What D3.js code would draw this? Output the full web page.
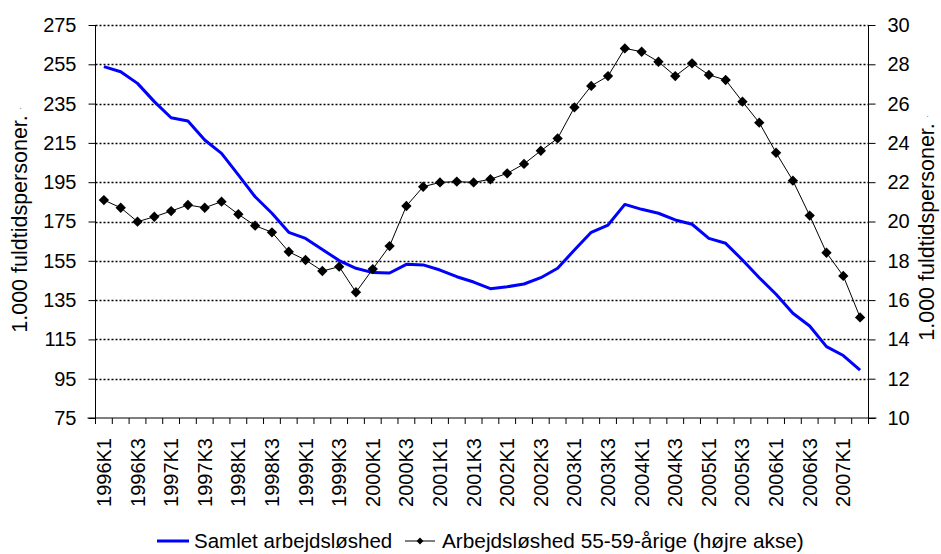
<!DOCTYPE html>
<html>
<head>
<meta charset="utf-8">
<script src="https://cdn.jsdelivr.net/npm/d3@7"></script>
<style>
	body { margin: 0; background: #fff; }
	svg { display: block; font-family: "Liberation Sans", Arial, sans-serif; }
</style>
</head>
<body>
<svg id="svgChart" width="941" height="554"></svg>
<script>
// Quarters 1996K1 .. 2007K2
var quarters = [];
for (let y = 1996; y <= 2007; y++) {
	for (let q = 1; q <= 4; q++) {
		if (y == 2007 && q > 2) break;
		quarters.push(y + "K" + q);
	}
}

// Samlet arbejdsløshed (1.000 fuldtidspersoner, left axis)
var totalUnemp = [
	253.8, 251.2, 245.3, 236.0, 227.8, 226.1, 216.5, 209.7, 198.7, 187.6,
	179.2, 169.5, 166.4, 160.8, 155.1, 151.2, 149.0, 148.8, 153.2, 152.9,
	150.3, 146.9, 144.2, 140.8, 141.8, 143.2, 146.4, 151.2, 160.5, 169.5,
	173.2, 183.7, 181.2, 179.2, 175.8, 173.6, 166.4, 163.9, 155.4, 146.4,
	138.0, 128.3, 121.8, 111.3, 106.8, 99.4
];

// Arbejdsløshed 55-59-årige (1.000 fuldtidspersoner, right axis)
var olderUnemp = [
	21.09, 20.70, 19.99, 20.24, 20.53, 20.84, 20.70, 21.01, 20.37, 19.79,
	19.45, 18.46, 18.04, 17.48, 17.70, 16.40, 17.58, 18.75, 20.79, 21.77,
	21.99, 22.03, 21.99, 22.15, 22.45, 22.93, 23.60, 24.23, 25.81, 26.90,
	27.40, 28.81, 28.64, 28.13, 27.40, 28.05, 27.46, 27.20, 26.10, 25.03,
	23.50, 22.08, 20.30, 18.41, 17.23, 15.12
];

// Tick labels
var leftTicks = [75, 95, 115, 135, 155, 175, 195, 215, 235, 255, 275];
var rightTicks = [10, 12, 14, 16, 18, 20, 22, 24, 26, 28, 30];
var xLabels = quarters.filter((d, i) => i % 2 == 0);

var seriesNames = ["Samlet arbejdsløshed", "Arbejdsløshed 55-59-årige (højre akse)"];
var yTitle = "1.000 fuldtidspersoner.";

var chart = { left: 95.5, right: 868.5, top: 25, bottom: 418 };

var svg = d3.select("#svgChart");

// Scales
var x = d3.scaleBand()
	.domain(quarters)
	.range([chart.left, chart.right])
	.padding(0);
var xc = (d) => x(d) + x.bandwidth() / 2;
var yL = d3.scaleLinear().domain([75, 275]).range([chart.bottom, chart.top]);
var yR = d3.scaleLinear().domain([10, 30]).range([chart.bottom, chart.top]);

// Dotted gridlines
svg.append("g")
	.selectAll("line")
	.data(leftTicks.slice(1))
	.enter()
	.append("line")
	.attr("x1", chart.left)
	.attr("x2", chart.right)
	.attr("y1", (d) => Math.round(yL(d)) + 0.5)
	.attr("y2", (d) => Math.round(yL(d)) + 0.5)
	.attr("stroke", "#000")
	.attr("stroke-width", 1.5)
	.attr("stroke-dasharray", "2,2");

// Left axis
let gLeft = svg.append("g")
	.attr("transform", "translate(" + chart.left + ",0)")
	.call(d3.axisLeft(yL).tickValues(leftTicks).tickSize(7).tickPadding(12));

// Right axis
let gRight = svg.append("g")
	.attr("transform", "translate(" + chart.right + ",0)")
	.call(d3.axisRight(yR).tickValues(rightTicks).tickSize(7).tickPadding(12));

[gLeft, gRight].forEach((g) => {
	g.select(".domain").attr("d", "M0," + chart.top + "V" + chart.bottom);
	g.selectAll("line").attr("stroke", "#000");
	g.selectAll("text")
		.attr("fill", "#000")
		.style("font-size", "20px");
});

// Bottom axis with ticks between categories
let gBottom = svg.append("g");
gBottom.append("line")
	.attr("x1", chart.left - 8)
	.attr("x2", chart.right + 8)
	.attr("y1", chart.bottom)
	.attr("y2", chart.bottom)
	.attr("stroke", "#000");
gBottom.selectAll(".tick")
	.data(quarters.concat(["end"]))
	.enter()
	.append("line")
	.attr("x1", (d, i) => chart.left + i * x.bandwidth())
	.attr("x2", (d, i) => chart.left + i * x.bandwidth())
	.attr("y1", chart.bottom)
	.attr("y2", chart.bottom + 6)
	.attr("stroke", "#000");
gBottom.selectAll(".xlabel")
	.data(xLabels)
	.enter()
	.append("text")
	.attr("class", "xlabel")
	.attr("transform", (d) => "translate(" + (xc(d) + 7) + "," + (chart.bottom + 20) + ") rotate(-90)")
	.style("text-anchor", "end")
	.style("font-size", "20px")
	.text((d) => d);

// Axis titles (with the small trailing dot seen in the original)
[[27, 220], [934, 228]].forEach((p) => {
	let t = svg.append("text")
		.attr("transform", "translate(" + p[0] + "," + p[1] + ") rotate(-90)")
		.style("text-anchor", "middle")
		.style("font-size", "21.5px")
		.text(yTitle + " ");
	t.append("tspan")
		.style("font-size", "7px")
		.attr("dy", "-6")
		.text(".");
});

// Blue line (left axis)
let lineL = d3.line()
	.x((d, i) => xc(quarters[i]))
	.y((d) => yL(d));
svg.append("path")
	.datum(totalUnemp)
	.attr("d", lineL)
	.attr("fill", "none")
	.attr("stroke", "#0000ff")
	.attr("stroke-width", 3)
	.attr("stroke-linejoin", "round");

// Black line with diamonds (right axis)
let lineR = d3.line()
	.x((d, i) => xc(quarters[i]))
	.y((d) => yR(d));
svg.append("path")
	.datum(olderUnemp)
	.attr("d", lineR)
	.attr("fill", "none")
	.attr("stroke", "#000")
	.attr("stroke-width", 1);

let diamond = d3.symbol().type(d3.symbolDiamond2).size(68);
svg.append("g")
	.selectAll("path")
	.data(olderUnemp)
	.enter()
	.append("path")
	.attr("transform", (d, i) => "translate(" + xc(quarters[i]) + "," + yR(d) + ")")
	.attr("d", diamond)
	.attr("fill", "#000");

// Legend
let lg = svg.append("g");
lg.append("line")
	.attr("x1", 157).attr("x2", 189)
	.attr("y1", 541).attr("y2", 541)
	.attr("stroke", "#0000ff")
	.attr("stroke-width", 3);
lg.append("text")
	.attr("x", 194).attr("y", 548)
	.style("font-size", "20.5px")
	.text(seriesNames[0]);
lg.append("line")
	.attr("x1", 405).attr("x2", 435)
	.attr("y1", 541).attr("y2", 541)
	.attr("stroke", "#000");
lg.append("path")
	.attr("transform", "translate(420,541)")
	.attr("d", d3.symbol().type(d3.symbolDiamond2).size(30))
	.attr("fill", "#000");
lg.append("text")
	.attr("x", 442).attr("y", 548)
	.style("font-size", "20.8px")
	.text(seriesNames[1]);
</script>
</body>
</html>
